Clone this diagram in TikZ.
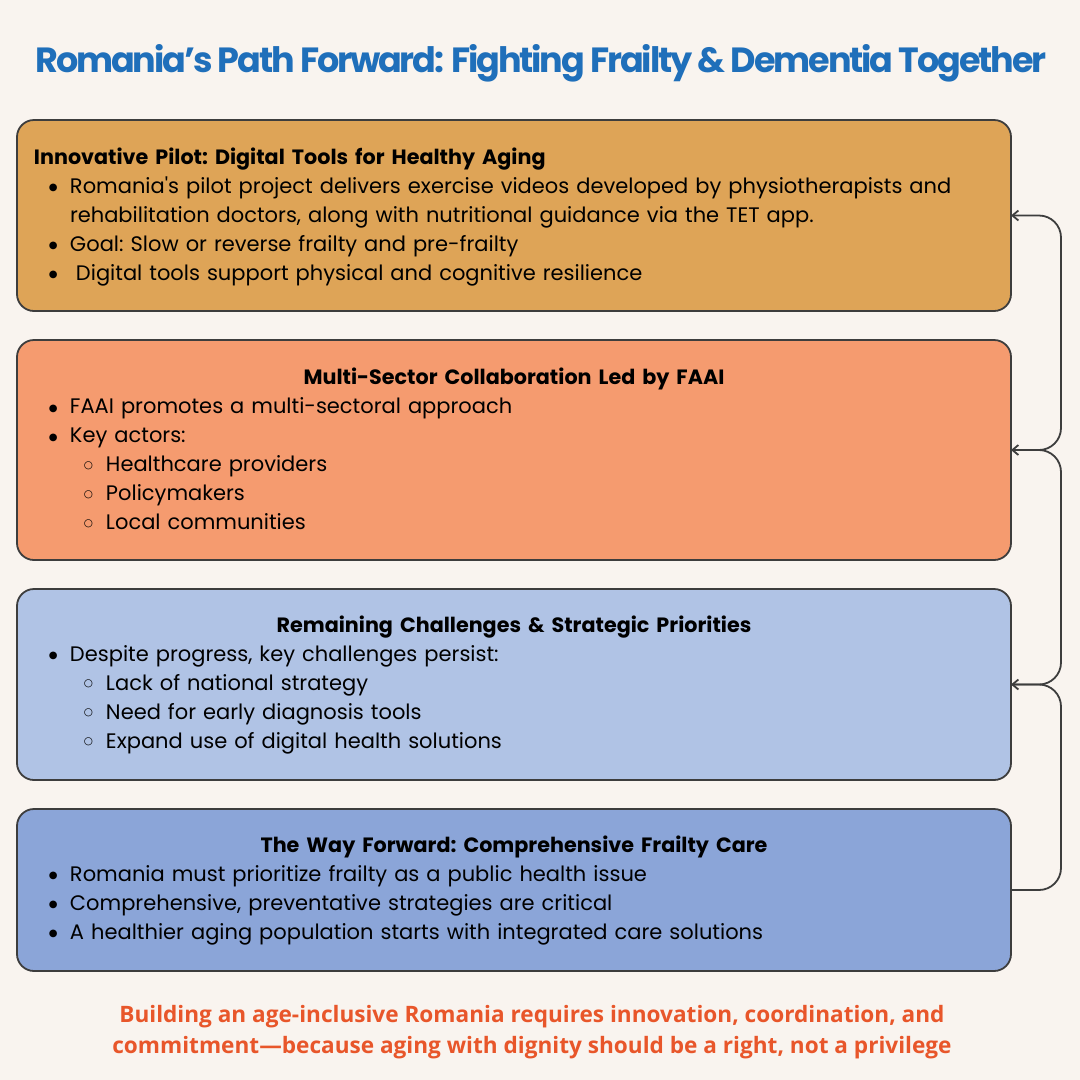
\documentclass[tikz,border=0pt]{standalone}
\usepackage{fontspec}
\setmainfont{Poppins}
\newfontfamily\titlefont[LetterSpace=-6.1]{Poppins}
\newfontfamily\footfont{Open Sans}
\newfontfamily\markfont{DejaVu Sans}
\usetikzlibrary{positioning,arrows.meta}

\definecolor{pagebg}{HTML}{F9F4EF}
\definecolor{titleblue}{HTML}{1F6FBA}
\definecolor{footred}{HTML}{E8562A}
\definecolor{edgegrey}{HTML}{3D3D3D}
\definecolor{pilotfill}{HTML}{DEA457}
\definecolor{collabfill}{HTML}{F59B6F}
\definecolor{challengefill}{HTML}{B0C3E5}
\definecolor{wayfill}{HTML}{8BA5D8}

% lignes des listes
\newcommand{\headline}[1]{\par\leftskip=0pt\noindent{\fontsize{20.7}{29}\selectfont\bfseries #1}\par}
\newcommand{\headmid}[1]{\par\leftskip=0pt\centerline{\fontsize{20.7}{29}\selectfont\bfseries #1}\par}
\newcommand{\itemone}[1]{\par\leftskip=36pt\noindent\llap{\makebox[21pt][l]{\raisebox{2.5pt}{\fontsize{10}{10}\markfont ●}}}#1\par}
\newcommand{\itemtwo}[1]{\par\leftskip=72pt\noindent\llap{\makebox[22pt][l]{\raisebox{3.5pt}{\fontsize{10.5}{10.5}\markfont ○}}}#1\par}

\tikzset{
  card/.style={draw=edgegrey, line width=1.8pt, rounded corners=17pt, minimum width=994pt, text width=960pt, inner sep=0pt, outer sep=0pt, align=left, font=\fontsize{21}{29}\selectfont\frenchspacing, text=black},
  flow/.style={-{Straight Barb[length=6pt,width=10pt]}, draw=edgegrey, line width=1.8pt, rounded corners=22pt}
}

\begin{document}
\begin{tikzpicture}[x=1pt, y=1pt, node distance=29pt]
  \path[fill=pagebg] (0,0) rectangle (1080,-1080);

  % Titre
  \node[font=\fontsize{35}{42}\bfseries\titlefont, text=titleblue, inner sep=0pt] (title) at (541,-63) {Romania’s Path Forward: Fighting Frailty \& Dementia Together};

  % Cartes
  \node[card, fill=pilotfill, minimum height=191pt, anchor=north west] (pilot) at (17,-120) {%
    \headline{Innovative Pilot: Digital Tools for Healthy Aging}
    \itemone{Romania\textquotesingle s pilot project delivers exercise videos developed by physiotherapists and\\rehabilitation doctors, along with nutritional guidance via the TET app.}
    \itemone{Goal: Slow or reverse frailty and pre-frailty}
    \itemone{\hspace{6pt}Digital tools support physical and cognitive resilience}
    \vspace{10pt}};
  \node[card, fill=collabfill, minimum height=220pt, below=29pt of pilot] (collab) {%
    \headmid{Multi-Sector Collaboration Led by FAAI}
    \itemone{FAAI promotes a multi-sectoral approach}
    \itemone{Key actors:}
    \itemtwo{Healthcare providers}
    \itemtwo{Policymakers}
    \itemtwo{Local communities}
    \vspace{14pt}};
  \node[card, fill=challengefill, minimum height=191pt, below=29pt of collab] (challenge) {%
    \headmid{Remaining Challenges \& Strategic Priorities}
    \itemone{Despite progress, key challenges persist:}
    \itemtwo{Lack of national strategy}
    \itemtwo{Need for early diagnosis tools}
    \itemtwo{Expand use of digital health solutions}
    \vspace{12pt}};
  \node[card, fill=wayfill, minimum height=162pt, below=29pt of challenge] (way) {%
    \headmid{The Way Forward: Comprehensive Frailty Care}
    \itemone{Romania must prioritize frailty as a public health issue}
    \itemone{Comprehensive, preventative strategies are critical}
    \itemone{A healthier aging population starts with integrated care solutions}
    \vspace{12pt}};

  % Pied de page
  \node[font=\fontsize{22.6}{31}\bfseries\footfont, text=footred, align=center, inner sep=0pt] (closing) at (532,-1032) {Building an age-inclusive Romania requires innovation, coordination, and\\commitment—because aging with dignity should be a right, not a privilege};

  % Flèches
  \draw[flow] (way.east) -- ++(50,0) |- (challenge.east);
  \draw[flow] (challenge.east) -- ++(50,0) |- (collab.east);
  \draw[flow] (collab.east) -- ++(50,0) |- (pilot.east);
\end{tikzpicture}
\end{document}
